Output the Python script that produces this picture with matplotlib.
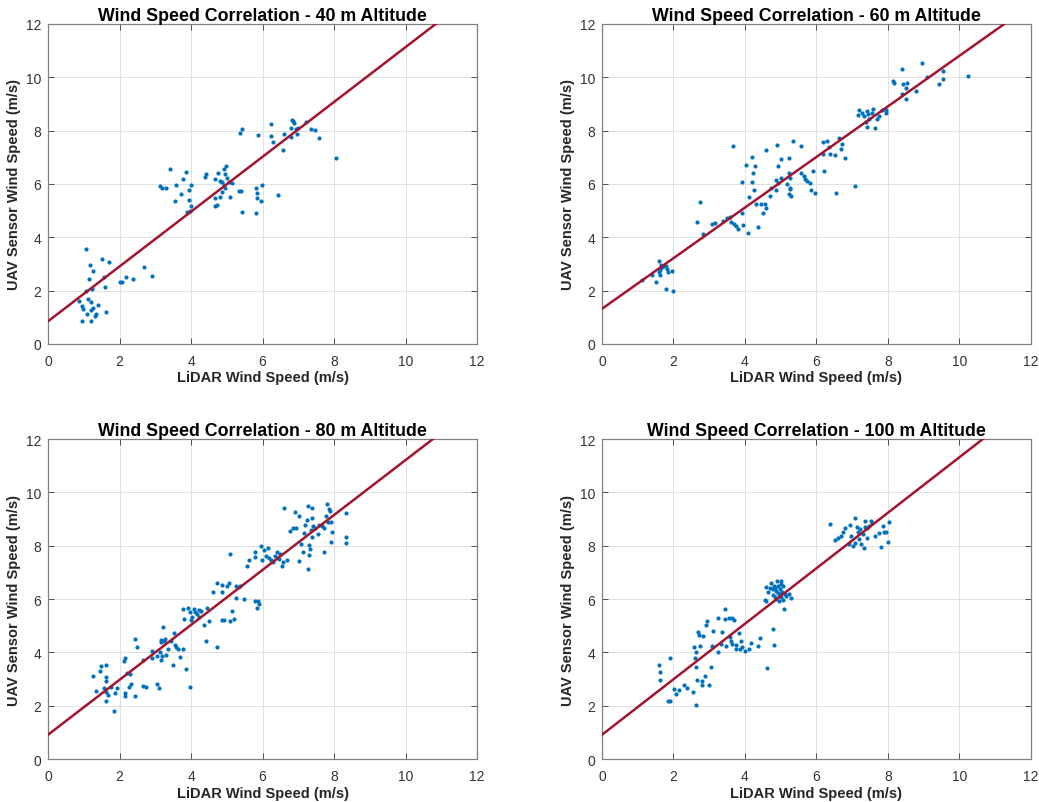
import numpy as np
import matplotlib
matplotlib.use("Agg")
import matplotlib.pyplot as plt

plt.rcParams['font.family'] = ['Liberation Sans', 'DejaVu Sans']

# altitude labels for each panel
altitudes = [40, 60, 80, 100]

# fitted regression lines (intercept, slope)
fit_intercepts = [0.85, 1.32, 0.91, 0.91]
fit_slopes = [1.028, 0.949, 1.030, 1.041]

# 40 m
lidar_40 = [1.07, 1.17, 1.25, 1.52, 1.72, 1.16, 1.58, 1.60, 1.23, 1.06, 0.87, 1.13, 1.20, 0.96,
            0.98, 1.26, 1.40, 1.10, 1.35, 1.31, 1.62, 0.96, 1.20, 1.21, 2.01, 2.08, 2.18, 2.38,
            2.69, 2.90, 3.42, 3.12, 3.20, 3.31, 3.59, 3.54, 3.73, 3.78, 3.87, 3.94, 4.00, 3.94,
            4.01, 3.88, 3.98, 4.40, 4.43, 4.66, 4.75, 4.81, 4.86, 4.92, 4.96, 4.88, 4.93, 4.99,
            4.94, 5.01, 5.05, 5.16, 5.10, 4.81, 4.67, 4.74, 4.67, 5.35, 5.40, 5.43, 5.38, 5.44,
            5.81, 5.84, 5.85, 5.99, 5.96, 5.82, 5.88, 6.23, 6.23, 6.29, 6.44, 6.57, 6.61, 6.79,
            6.81, 6.82, 6.86, 6.88, 6.94, 6.96, 7.00, 7.21, 7.36, 7.47, 7.57, 8.05]
uav_40 = [3.55, 2.96, 2.73, 3.19, 3.09, 2.42, 2.51, 2.13, 2.07, 1.97, 1.62, 1.67, 1.57, 1.42,
          1.30, 1.35, 1.47, 1.12, 1.12, 1.06, 1.20, 0.85, 0.85, 1.28, 2.31, 2.31, 2.51, 2.43,
          2.89, 2.54, 6.57, 5.91, 5.84, 5.86, 5.97, 5.37, 5.61, 6.17, 6.46, 5.77, 5.97, 5.39,
          5.16, 4.94, 4.99, 6.25, 6.36, 6.20, 6.40, 6.12, 6.06, 5.96, 5.85, 5.71, 6.56, 6.68,
          6.36, 6.21, 6.06, 6.05, 5.50, 5.50, 5.46, 5.22, 5.17, 5.72, 5.72, 4.94, 7.91, 8.05,
          5.84, 5.67, 5.47, 5.96, 5.35, 4.90, 7.82, 8.25, 7.81, 7.59, 5.59, 7.27, 7.89, 7.78,
          8.09, 8.40, 8.38, 8.27, 8.05, 7.87, 8.09, 8.32, 8.07, 8.02, 7.73, 6.97]

# 60 m
lidar_60 = [1.13, 1.39, 1.52, 1.60, 1.65, 1.62, 1.60, 1.62, 1.69, 1.78, 1.82, 1.86, 1.97, 1.78,
            2.00, 1.73, 2.66, 2.75, 2.83, 3.07, 3.15, 3.39, 3.51, 3.58, 3.62, 3.69, 3.74, 3.80,
            3.93, 3.95, 3.67, 3.92, 4.04, 4.07, 4.12, 4.19, 4.21, 4.19, 4.28, 4.26, 4.32, 4.36,
            4.45, 4.51, 4.57, 4.60, 4.60, 4.70, 4.72, 4.88, 4.88, 4.90, 4.93, 4.92, 5.02, 5.00,
            5.18, 5.24, 5.23, 5.26, 5.24, 5.29, 5.27, 5.35, 5.26, 5.58, 5.56, 5.65, 5.69, 5.74,
            5.82, 5.89, 5.86, 5.95, 6.17, 6.19, 6.21, 6.30, 6.36, 6.38, 6.53, 6.54, 6.64, 6.68,
            6.71, 6.81, 7.07, 7.17, 7.20, 7.27, 7.33, 7.40, 7.45, 7.39, 7.42, 7.48, 7.54, 7.59,
            7.65, 7.70, 7.74, 7.82, 7.95, 7.95, 8.14, 8.18, 8.39, 8.39, 8.43, 8.49, 8.52, 8.51,
            8.79, 8.94, 9.10, 9.44, 9.53, 9.55, 10.24]
uav_60 = [2.41, 2.58, 2.32, 3.13, 2.98, 2.79, 2.69, 2.57, 2.88, 2.92, 2.82, 2.69, 2.72, 2.07,
          1.98, 2.94, 4.56, 5.31, 4.14, 4.51, 4.54, 4.61, 4.74, 4.78, 4.56, 4.51, 4.44, 4.31,
          4.90, 4.46, 7.42, 6.08, 6.71, 4.15, 5.50, 7.00, 6.41, 6.08, 6.68, 5.76, 5.26, 4.39,
          5.26, 4.90, 5.25, 5.11, 7.27, 5.55, 5.84, 6.16, 5.77, 7.47, 6.68, 6.03, 6.95, 6.22,
          5.99, 6.98, 6.41, 5.81, 5.61, 5.54, 5.84, 7.61, 6.22, 7.42, 6.43, 6.31, 6.18, 6.10,
          6.03, 6.48, 5.79, 5.65, 7.58, 7.14, 6.48, 7.61, 7.38, 7.13, 7.08, 5.67, 7.72, 7.33,
          7.51, 6.98, 5.94, 8.60, 8.78, 8.68, 8.55, 8.74, 8.63, 8.33, 8.15, 8.45, 8.68, 8.83,
          8.09, 8.43, 8.55, 8.78, 8.68, 8.78, 9.85, 9.78, 10.32, 9.38, 9.75, 9.61, 9.80, 9.19,
          9.49, 10.54, 10.00, 9.75, 9.95, 10.24, 10.05]

# 80 m
lidar_80 = [1.26, 1.34, 1.45, 1.48, 1.62, 1.62, 1.63, 1.57, 1.63, 1.68, 1.63, 1.84, 1.87, 1.93,
            1.77, 2.12, 2.16, 2.14, 2.16, 2.21, 2.29, 2.27, 2.31, 2.42, 2.42, 2.49, 2.66, 2.66,
            2.75, 2.90, 2.92, 3.05, 3.05, 3.11, 3.13, 3.15, 3.18, 3.15, 3.17, 3.22, 3.26, 3.24,
            3.31, 3.37, 3.45, 3.50, 3.52, 3.55, 3.59, 3.64, 3.69, 3.78, 3.78, 3.80, 3.87, 3.91,
            3.97, 3.98, 4.00, 4.04, 4.08, 4.12, 4.17, 4.21, 4.28, 4.23, 4.36, 4.41, 4.45, 4.51,
            4.62, 4.72, 4.74, 4.86, 4.88, 4.88, 4.93, 5.00, 5.07, 5.09, 5.09, 5.14, 5.20, 5.25,
            5.26, 5.37, 5.48, 5.58, 5.63, 5.78, 5.78, 5.80, 5.84, 5.87, 5.91, 5.95, 5.98, 6.04,
            6.10, 6.15, 6.17, 6.25, 6.30, 6.34, 6.40, 6.45, 6.49, 6.55, 6.58, 6.59, 6.69, 6.76,
            6.84, 6.92, 6.94, 7.01, 7.01, 7.07, 7.14, 7.16, 7.19, 7.24, 7.26, 7.26, 7.29, 7.31,
            7.33, 7.35, 7.38, 7.38, 7.39, 7.42, 7.46, 7.55, 7.59, 7.66, 7.72, 7.72, 7.78, 7.80,
            7.82, 7.85, 7.89, 7.91, 7.91, 7.94, 8.34, 8.34, 8.34]
uav_80 = [3.12, 2.56, 3.31, 3.50, 3.53, 3.06, 2.92, 2.66, 2.52, 2.41, 2.18, 1.80, 2.47, 2.68,
          2.70, 3.67, 3.78, 2.47, 2.38, 3.22, 3.20, 2.72, 2.82, 4.51, 2.38, 4.22, 3.70, 2.73,
          2.72, 4.06, 3.78, 2.82, 3.85, 2.68, 4.03, 3.73, 3.85, 4.48, 4.38, 4.97, 4.51, 4.41,
          3.92, 4.11, 4.43, 3.53, 4.73, 4.28, 4.19, 4.13, 3.81, 4.11, 5.61, 5.26, 3.36, 5.67,
          5.53, 2.71, 5.23, 5.34, 5.63, 5.51, 5.43, 5.59, 5.56, 5.31, 5.04, 4.41, 5.68, 5.18,
          6.25, 4.21, 6.59, 5.22, 6.53, 6.25, 5.23, 6.48, 6.59, 7.68, 5.18, 5.57, 5.26, 6.05,
          6.50, 6.50, 6.01, 7.24, 7.45, 7.75, 5.91, 7.59, 5.68, 5.94, 5.83, 7.98, 7.48, 7.85,
          7.63, 7.93, 7.55, 7.48, 7.38, 7.63, 7.75, 7.50, 7.70, 7.24, 7.40, 9.41, 7.48, 8.55,
          8.65, 9.28, 8.66, 9.10, 7.42, 8.06, 7.75, 8.48, 8.79, 8.98, 9.48, 7.13, 8.04, 7.65,
          7.88, 8.60, 9.40, 9.03, 8.31, 8.75, 8.68, 8.43, 8.78, 8.73, 7.78, 8.68, 9.10, 9.56,
          8.88, 9.38, 9.30, 8.90, 8.13, 8.53, 9.23, 8.34, 8.10]

# 100 m
lidar_100 = [1.60, 1.63, 1.63, 1.89, 1.86, 1.91, 2.02, 2.08, 2.14, 2.29, 2.39, 2.55, 2.57, 2.59,
             2.62, 2.64, 2.62, 2.66, 2.68, 2.72, 2.74, 2.79, 2.83, 2.79, 2.87, 2.90, 2.94, 2.99,
             3.05, 3.07, 3.11, 3.24, 3.25, 3.33, 3.37, 3.44, 3.45, 3.48, 3.56, 3.59, 3.61, 3.63,
             3.69, 3.65, 3.74, 3.76, 3.82, 3.86, 3.89, 3.93, 3.99, 4.10, 4.17, 4.36, 4.42, 4.62,
             4.77, 4.81, 4.58, 4.55, 4.60, 4.65, 4.70, 4.74, 4.77, 4.81, 4.84, 4.86, 4.90, 4.92,
             4.94, 4.96, 4.98, 5.00, 5.01, 5.03, 5.05, 5.07, 5.10, 5.13, 5.16, 5.22, 5.28, 4.88,
             4.83, 4.77, 5.02, 4.91, 6.38, 6.53, 6.60, 6.68, 6.73, 6.79, 6.90, 6.94, 6.97, 7.03,
             7.07, 7.09, 7.12, 7.16, 7.20, 7.22, 7.25, 7.29, 7.33, 7.35, 7.37, 7.40, 7.42, 7.46,
             7.52, 7.55, 7.65, 7.76, 7.81, 7.85, 7.89, 7.95, 8.02, 8.01]
uav_100 = [3.53, 3.26, 2.98, 3.78, 2.18, 2.18, 2.63, 2.45, 2.60, 2.76, 2.68, 2.53, 4.21, 3.78,
           4.03, 3.47, 2.03, 2.98, 4.76, 4.67, 4.23, 2.76, 4.63, 2.93, 3.13, 5.04, 5.17, 2.78,
           3.46, 4.23, 4.82, 5.29, 4.03, 4.32, 4.76, 5.24, 5.63, 4.23, 5.29, 4.58, 4.44, 5.29,
           5.21, 4.31, 4.13, 4.26, 4.73, 4.13, 4.41, 4.19, 4.04, 4.13, 4.36, 4.23, 4.53, 3.41,
           4.87, 4.29, 6.45, 5.98, 5.93, 6.25, 6.40, 6.60, 6.17, 6.50, 6.07, 6.32, 6.69, 6.50,
           5.93, 6.19, 6.38, 6.57, 6.07, 6.25, 6.50, 5.98, 5.63, 6.19, 6.13, 6.18, 6.05, 6.01,
           6.40, 6.38, 6.69, 6.23, 8.83, 8.23, 8.29, 8.38, 8.50, 8.68, 8.07, 8.79, 8.35, 8.00,
           9.04, 8.10, 8.69, 8.50, 8.25, 8.63, 8.07, 8.44, 7.90, 8.69, 8.94, 8.68, 8.28, 8.73,
           8.94, 8.85, 8.38, 8.48, 7.94, 8.73, 8.53, 8.53, 8.88, 8.13]

lidar_sets = [lidar_40, lidar_60, lidar_80, lidar_100]
uav_sets = [uav_40, uav_60, uav_80, uav_100]

fig = plt.figure(figsize=(10.39, 8.03), dpi=100)
fig.patch.set_facecolor('white')

# axes rectangles in figure fractions (left, bottom, width, height)
rects = [(0.0462, 0.5704, 0.4129, 0.3985),
         (0.5794, 0.5704, 0.4129, 0.3985),
         (0.0462, 0.0535, 0.4129, 0.3985),
         (0.5794, 0.0535, 0.4129, 0.3985)]

xfit = np.linspace(0, 12, 200)

for i in range(4):
    ax = fig.add_axes(rects[i])
    ax.scatter(lidar_sets[i], uav_sets[i], s=9, color='#0072BD', zorder=3, linewidths=0)
    ax.plot(xfit, fit_intercepts[i] + fit_slopes[i] * xfit, color='#A2142F', lw=1.8, zorder=4)
    ax.set_xlim(0, 12)
    ax.set_ylim(0, 12)
    ax.set_xticks(range(0, 13, 2))
    ax.set_yticks(range(0, 13, 2))
    ax.grid(True, color='#e0e0e0', lw=0.7)
    ax.set_axisbelow(True)
    ax.tick_params(direction='in', top=True, right=True, length=4, width=0.7,
                   labelsize=10, colors='#4d4d4d', labelcolor='#333333')
    ax.tick_params(axis='x', pad=7)
    ax.tick_params(axis='y', pad=5)
    for sp in ax.spines.values():
        sp.set_color('#808080')
        sp.set_linewidth(0.9)
    ax.set_title('Wind Speed Correlation - %d m Altitude' % altitudes[i],
                 fontsize=12.8, fontweight='bold', pad=3)
    ax.set_xlabel('LiDAR Wind Speed (m/s)', fontsize=10.5, fontweight='bold',
                  color='#262626', labelpad=2)
    ax.set_ylabel('UAV Sensor Wind Speed (m/s)', fontsize=10.5, fontweight='bold',
                  color='#262626', labelpad=3)

fig.savefig('out.png', dpi=100, facecolor='white')
